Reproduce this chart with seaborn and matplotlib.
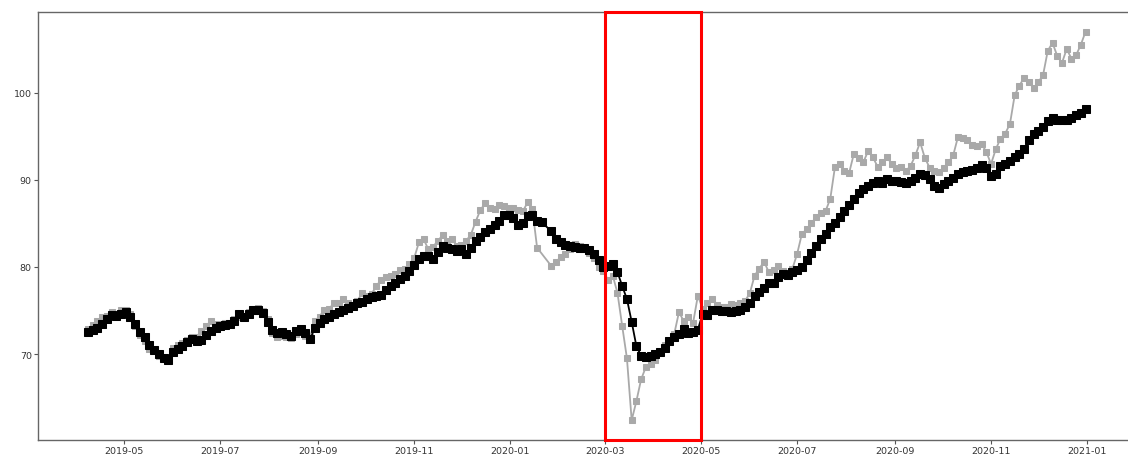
import numpy as np
import pandas as pd
import matplotlib
matplotlib.use("Agg")
import matplotlib.pyplot as plt
import seaborn as sns

# values every 3 days from 2019-04-08 to 2020-12-31
nan = np.nan
black = [
    # 2019-04
    72.5, 72.7, 73.0, 73.5, 74.0, 74.5, 74.4, 74.6,
    # 2019-05
    74.8, 74.3, 73.5, 72.5, 71.9, 71.0, 70.5, 70.0, 69.5, 69.3,
    # 2019-06
    70.2, 70.6, 70.9, 71.4, 71.7, 71.5, 71.6, 72.2, 72.6, 73.0,
    # 2019-07
    73.2, 73.3, 73.4, 73.8, 74.6, 74.3, 74.6, 75.0, 75.0, 74.7, 73.7,
    # 2019-08
    72.8, 72.4, 72.5, 72.3, 72.1, 72.6, 72.9, 72.4, 71.7, 73.0,
    # 2019-09
    73.6, 74.0, 74.2, 74.6, 74.8, 75.1, 75.3, 75.5, 75.8, 76.0,
    # 2019-10
    76.3, 76.5, 76.7, 76.8, 77.4, 77.8, 78.2, 78.6, 79.0, 79.5,
    # 2019-11
    80.2, 80.9, 81.3, 81.2, 80.9, 81.7, 82.4, 82.2, 82.0, 81.8,
    # 2019-12
    82.1, 81.5, 82.2, 83.0, 83.4, 84.0, 84.3, 84.8, 85.3, 85.9, 86.0,
    # 2020-01
    85.6, 84.8, 85.0, 85.8, 86.0, 85.3, 85.1, nan, 84.1, 83.2,
    # 2020-02
    82.8, 82.5, 82.4, 82.3, 82.2, 82.2, 81.9, 81.5, 80.8, 80.0,
    # 2020-03
    80.1, 80.3, 79.4, 77.8, 76.3, 73.7, 70.9, 69.8, 69.7, 69.8,
    # 2020-04
    70.0, 70.2, 70.7, 71.5, 71.9, 72.3, 72.9, 72.4, 72.5, 72.8,
    # 2020-05
    74.6, 74.5, 75.1, 75.0, 74.9, 74.9, 74.8, 74.9, 75.1, 75.4,
    # 2020-06
    75.9, 76.6, 77.1, 77.6, 78.2, 78.1, 78.8, 79.2, 79.1, 79.4,
    # 2020-07
    79.6, 80.0, 80.8, 81.6, 82.4, 83.2, 83.8, 84.6, 85.0, 85.7, 86.4,
    # 2020-08
    87.1, 87.8, 88.5, 88.9, 89.3, 89.6, 89.9, 89.6, 90.1, 89.9,
    # 2020-09
    89.8, 89.7, 89.6, 89.8, 90.2, 90.7, 90.5, 90.1, 89.3, 89.0,
    # 2020-10
    89.5, 89.8, 90.2, 90.7, 90.9, 91.0, 91.1, 91.3, 91.7, 91.4,
    # 2020-11
    90.4, 90.6, 91.6, 91.8, 92.1, 92.6, 93.0, 93.5, 94.5, 95.2,
    # 2020-12
    95.6, 96.1, 96.7, 97.1, 96.9, 96.8, 96.9, 97.1, 97.4, 97.7, 98.1,
]

gray = [
    # 2019-04
    72.9, 73.3, 73.8, 74.2, 74.4, 74.8, 74.6, 75.0,
    # 2019-05
    75.1, 74.6, 73.2, 72.2, 71.5, 70.6, 70.3, 69.8, 69.4, 69.5,
    # 2019-06
    70.7, 71.0, 71.3, 71.6, 72.0, 72.0, 72.6, 73.2, 73.8, 73.5,
    # 2019-07
    73.4, 73.6, 73.5, 74.0, 74.2, 74.4, 74.8, 75.2, 75.3, 74.9, 74.0,
    # 2019-08
    72.4, 72.0, 72.1, 71.9, 71.8, 72.3, 72.6, 72.1, 72.0, 73.8,
    # 2019-09
    74.3, 75.1, 75.2, 75.8, 75.9, 76.3, 75.9, 75.6, 76.1, 77.0,
    # 2019-10
    76.6, 76.9, 77.8, 78.5, 78.8, 79.0, 79.2, 79.6, 79.8, 80.3,
    # 2019-11
    81.0, 82.8, 83.2, 82.0, 82.3, 83.0, 83.6, 83.0, 83.2, 82.4,
    # 2019-12
    82.5, 83.0, 83.7, 85.2, 86.5, 87.3, 86.8, 86.6, 87.1, 87.0, 86.8,
    # 2020-01
    86.8, 86.5, 86.4, 87.4, 86.6, 82.2, nan, nan, 80.1, 80.6,
    # 2020-02
    81.1, 81.5, 82.0, 82.6, 82.4, 82.2, 81.6, 81.0, 80.0, 79.5,
    # 2020-03
    78.5, 79.0, 77.0, 73.2, 69.5, 62.4, 64.6, 67.1, 68.5, 68.8,
    # 2020-04
    69.3, 70.3, 71.0, 71.5, 72.3, 74.8, 73.8, 74.2, 73.6, 76.7,
    # 2020-05
    75.2, 75.8, 76.3, 75.6, 75.4, 75.4, 75.7, 75.6, 75.9, 76.1,
    # 2020-06
    77.0, 79.0, 79.8, 80.6, 79.4, 79.6, 80.1, 79.5, 79.3, 79.8,
    # 2020-07
    81.5, 83.8, 84.3, 85.0, 85.7, 86.2, 86.4, 87.8, 91.5, 91.8, 91.0,
    # 2020-08
    90.8, 93.0, 92.5, 92.0, 93.3, 92.6, 91.5, 92.0, 92.6, 91.8,
    # 2020-09
    91.3, 91.5, 91.0, 91.6, 92.8, 94.3, 92.5, 91.4, 91.0, 90.9,
    # 2020-10
    91.4, 92.0, 92.8, 94.9, 94.8, 94.6, 94.0, 93.9, 94.1, 93.2,
    # 2020-11
    91.8, 93.5, 94.7, 95.3, 96.4, 99.7, 100.8, 101.7, 101.2, 100.5,
    # 2020-12
    101.2, 102.0, 104.8, 105.7, 104.2, 103.4, 105.0, 103.9, 104.3, 105.5, 107.0,
]

dates = pd.date_range("2019-04-08", periods=len(black), freq="3D")
span_start, span_end = pd.Timestamp("2020-03-01"), pd.Timestamp("2020-05-01")

df = pd.DataFrame({"date": dates, "black": black, "gray": gray})

sns.set_style("ticks")
plt.rcParams["font.family"] = ["DejaVu Sans"]

fig = plt.figure(figsize=(11.28, 4.56), dpi=100)
ax = fig.add_axes([38 / 1128, 15.3 / 456, 1097.5 / 1128, 427.6 / 456])

g = df[["date", "gray"]].dropna()
b = df[["date", "black"]].dropna()
sns.lineplot(data=g, x="date", y="gray", ax=ax, color="darkgray", lw=1.3,
             marker="s", markersize=5, markeredgecolor="darkgray", estimator=None)
sns.lineplot(data=b, x="date", y="black", ax=ax, color="black", lw=1.3,
             marker="s", markersize=5.8, markeredgecolor="black", estimator=None)

ax.axvspan(span_start, span_end, fill=False, edgecolor="red", lw=2.2,
           clip_on=False, zorder=4)

ax.set_xlabel("")
ax.set_ylabel("")
ax.set_yticks([70, 80, 90, 100])
ax.xaxis.set_major_locator(matplotlib.dates.MonthLocator(bymonth=[1, 3, 5, 7, 9, 11]))
ax.xaxis.set_major_formatter(matplotlib.dates.DateFormatter("%Y-%m"))
ax.tick_params(labelsize=6.8, length=3, width=0.8, pad=1.5,
               colors="#555555", labelcolor="#333333")
for s in ax.spines.values():
    s.set_color("#666666")
    s.set_linewidth(1.0)

fig.savefig("out.png", dpi=100)
